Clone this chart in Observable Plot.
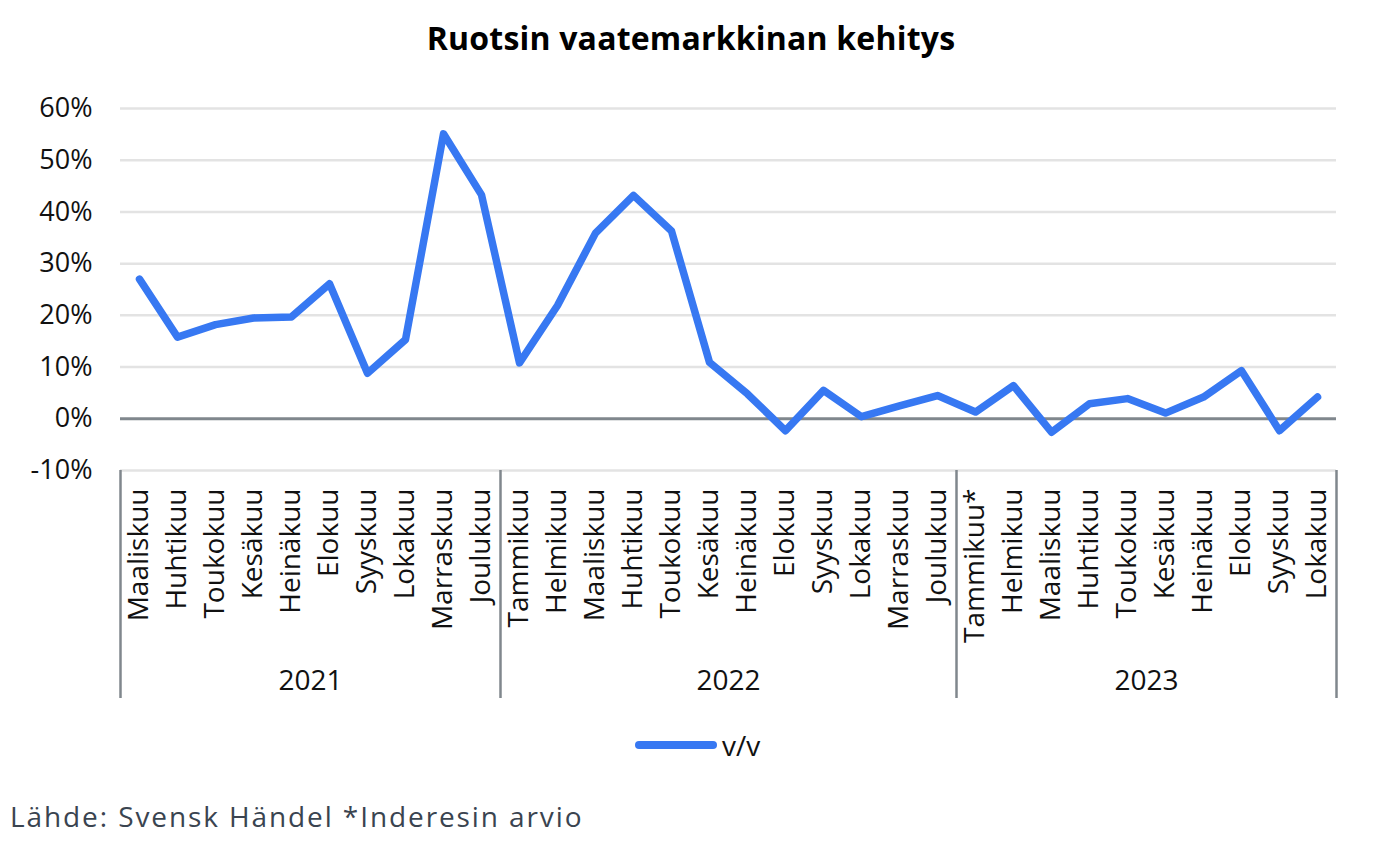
<!DOCTYPE html>
<html>
<head>
<meta charset="utf-8">
<script src="https://cdn.jsdelivr.net/npm/d3@7"></script>
<script src="https://cdn.jsdelivr.net/npm/@observablehq/plot@0.6"></script>
<style>
  html, body { margin: 0; padding: 0; background: #fff; }
  #wrap { position: relative; width: 1382px; height: 848px; font-family: "Open Sans", sans-serif; color: #111; }
  #title { position: absolute; left: 0; top: 22px; width: 1382px; text-align: center; font-weight: 700; font-size: 32px; line-height: 32px; color: #000; letter-spacing: 0.2px; }
  #chart { position: absolute; left: 0; top: 80px; }
  #legend { position: absolute; left: 635px; top: 731px; height: 28px; display: flex; align-items: center; font-size: 28px; line-height: 28px; }
  #legend .sw { display: inline-block; width: 82px; height: 8px; border-radius: 4px; background: #3778f2; margin-right: 5px; }
  #footer { position: absolute; left: 10px; top: 802px; font-size: 28px; line-height: 28px; color: #3a4450; white-space: nowrap; letter-spacing: 1.9px; }
</style>
</head>
<body>
<div id="wrap">
  <div id="title">Ruotsin vaatemarkkinan kehitys</div>
  <div id="chart"></div>
  <div id="legend"><span class="sw"></span><span>v/v</span></div>
  <div id="footer">Lähde: Svensk Händel *Inderesin arvio</div>
</div>
<script>
// ---- data ----
const years = [2021, 2022, 2023];
const months2021 = ["Maaliskuu", "Huhtikuu", "Toukokuu", "Kesäkuu", "Heinäkuu", "Elokuu", "Syyskuu", "Lokakuu", "Marraskuu", "Joulukuu"];
const months2022 = ["Tammikuu", "Helmikuu", "Maaliskuu", "Huhtikuu", "Toukokuu", "Kesäkuu", "Heinäkuu", "Elokuu", "Syyskuu", "Lokakuu", "Marraskuu", "Joulukuu"];
const months2023 = ["Tammikuu*", "Helmikuu", "Maaliskuu", "Huhtikuu", "Toukokuu", "Kesäkuu", "Heinäkuu", "Elokuu", "Syyskuu", "Lokakuu"];
const values2021 = [27.0, 15.8, 18.2, 19.5, 19.7, 26.1, 8.8, 15.3, 55.1, 43.3];
const values2022 = [10.8, 21.9, 35.9, 43.2, 36.3, 10.9, 4.8, -2.3, 5.5, 0.4, 2.5, 4.5];
const values2023 = [1.3, 6.4, -2.6, 2.9, 3.9, 1.1, 4.2, 9.3, -2.3, 4.2];
const yTicks = [-10, 0, 10, 20, 30, 40, 50, 60];
const seriesName = "v/v";

// ---- build table ----
const monthLists = [months2021, months2022, months2023];
const valueLists = [values2021, values2022, values2023];
const rows = [];
const groups = [];
years.forEach((yr, gi) => {
  const ms = monthLists[gi], vs = valueLists[gi];
  const keys = ms.map((m, i) => `${yr}-${i}`);
  ms.forEach((m, i) => rows.push({key: keys[i], label: m, year: yr, value: vs[i]}));
  groups.push({year: String(yr), first: keys[0], last: keys[keys.length - 1], mid: keys[ms.length / 2 - 1]});
});
const labelOf = new Map(rows.map(d => [d.key, d.label]));
const domain = rows.map(d => d.key);

// ---- layout ----
const W = 1382, H = 630;
const mL = 120, mR = 46, mT = 28, mB = 240;
const bw = (W - mL - mR) / domain.length;
const frameH = H - mT - mB;
const blue = "#3778f2";
const gray = "#80878d";

const seps = [...groups.map(g => ({key: g.first, side: -1})), {key: groups[groups.length - 1].last, side: 1}];

const chart = Plot.plot({
  width: W, height: H,
  marginLeft: mL, marginRight: mR, marginTop: mT, marginBottom: mB,
  style: {fontFamily: "Open Sans, sans-serif", fontSize: "28px", color: "#111", background: "white", overflow: "visible"},
  x: {type: "band", domain, padding: 0},
  y: {domain: [-10, 60]},
  marks: [
    Plot.ruleY(yTicks.filter(d => d !== 0), {stroke: "#e3e3e3", strokeWidth: 2.5}),
    Plot.ruleY([0], {stroke: gray, strokeWidth: 3}),
    Plot.ruleX(seps.filter(d => d.side < 0), {x: "key", dx: -bw / 2, insetTop: frameH, insetBottom: -228, stroke: gray, strokeWidth: 2.5}),
    Plot.ruleX(seps.filter(d => d.side > 0), {x: "key", dx: bw / 2, insetTop: frameH, insetBottom: -228, stroke: gray, strokeWidth: 2.5}),
    Plot.line(rows, {x: "key", y: "value", stroke: blue, strokeWidth: 7.5, strokeLinecap: "round", strokeLinejoin: "round"}),
    Plot.axisY({ticks: yTicks, tickFormat: d => `${d}%`, tickSize: 0, tickPadding: 28, fontSize: 27, label: null}),
    Plot.axisX({tickFormat: k => labelOf.get(k), tickRotate: -90, tickSize: 0, tickPadding: 18, fontSize: 28, label: null}),
    Plot.text(groups, {x: "mid", text: "year", dx: bw / 2, frameAnchor: "bottom", dy: 219, fontSize: 28, letterSpacing: "1px"})
  ]
});
document.getElementById("chart").appendChild(chart);
document.querySelector("#legend span:last-child").textContent = seriesName;
</script>
</body>
</html>
